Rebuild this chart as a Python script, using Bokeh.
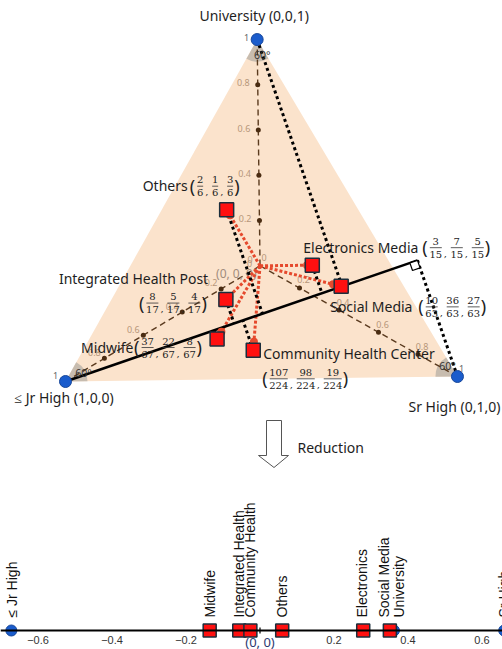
import math
import numpy as np
from bokeh.plotting import figure
from bokeh.models import ColumnDataSource, Range1d, LinearAxis, FixedTicker
from bokeh.layouts import column
from bokeh.embed import file_html
from bokeh.resources import INLINE
from bokeh.core.properties import value

# ---------------- data ----------------
vertex_labels = ["≤ Jr High (1,0,0)", "Sr High (0,1,0)", "University (0,0,1)"]

categories = ["Others", "Electronics Media", "Integrated Health Post",
              "Social Media", "Midwife", "Community Health Center"]
jr_high = [2, 3, 8, 10, 37, 107]
sr_high = [1, 7, 5, 36, 22, 98]
university = [3, 5, 4, 17, 8, 19]
totals = [6, 15, 17, 63, 67, 224]
university_as_printed = [3, 5, 4, 27, 8, 19]

median_ticks = [0, 0.2, 0.4, 0.6, 0.8, 1]
reduction_axis_deg = 19.0

line_names = ["≤ Jr High", "Midwife", "Integrated Health", "Community Health",
              "Others", "Electronics", "Social Media", "University", "Sr High"]
line_values = [-0.672, -0.136, -0.056, -0.026, 0.060, 0.279, 0.351, 0.362, 0.66]
line_is_vertex = [True, False, False, False, False, False, False, True, True]
line_ticks = [-0.6, -0.4, -0.2, 0.2, 0.4, 0.6]

# ---------------- layout / style ----------------
W, H_TOP, H_BOT = 502, 480, 169
S = 392.0                      # px per unit (triangle side)
L_PX = (65.0, 381.0)           # page position of the ≤ Jr High vertex
tilt = math.radians(0.73)
FONT = "Noto Sans"
DARK = "#1e1e1e"
RED = "#ff1010"
RED_DOT = "#e5492d"
BLUE = "#1a5ccc"
BROWN = "#5a3a1e"
TAN = "#b7977a"

name_off = {"Others": (-84, -24), "Electronics Media": (-9, -18),
            "Integrated Health Post": (-167, -21), "Social Media": (-11, 20),
            "Midwife": (-136, 8), "Community Health Center": (10, 3)}
frac_off = {"Others": (-36, -24), "Electronics Media": (111, -18),
            "Integrated Health Post": (-86, 3), "Social Media": (78, 20),
            "Midwife": (-82, 8), "Community Health Center": (10, 28)}


def page_to_data(px, py):
    return (px - L_PX[0]) / S, (L_PX[1] - py) / S


def add_text(p, x, y, text, xo=0, yo=0, font=FONT, size="14px", color=DARK,
             align="left", baseline="middle", angle=0.0):
    n = len(text)

    def arr(v):
        return list(v) if isinstance(v, (list, tuple, np.ndarray)) else [v] * n
    src = ColumnDataSource(dict(x=arr(x), y=arr(y), text=list(text),
                                xo=arr(xo), yo=arr(yo)))
    p.text(x="x", y="y", text="text", x_offset="xo", y_offset="yo", source=src,
           text_font=value(font), text_font_size=value(size), text_color=color,
           text_align=align, text_baseline=baseline, angle=angle)


# ---------------- ternary geometry ----------------
Lv = np.array([0.0, 0.0])
Rv = np.array([math.cos(tilt), math.sin(tilt)])
Tv = np.array([0.5 * math.cos(tilt) - math.sqrt(3) / 2 * math.sin(tilt),
               0.5 * math.sin(tilt) + math.sqrt(3) / 2 * math.cos(tilt)])
V = [Lv, Rv, Tv]
C = (Lv + Rv + Tv) / 3.0


def tern(a, b, c):
    return (a * Lv + b * Rv + c * Tv) / (a + b + c)


pts = [tern(a, b, c) for a, b, c in zip(jr_high, sr_high, university)]
th = math.radians(reduction_axis_deg)
u = np.array([math.cos(th), math.sin(th)])


def foot(P):
    return Lv + np.dot(P - Lv, u) * u


pt = figure(width=W, height=H_TOP,
            x_range=Range1d((0 - L_PX[0]) / S, (W - L_PX[0]) / S),
            y_range=Range1d((L_PX[1] - H_TOP) / S, L_PX[1] / S),
            output_backend="svg", toolbar_location=None,
            x_axis_type=None, y_axis_type=None, min_border=0,
            outline_line_color=None)

# triangle fill
pt.patch([v[0] for v in V], [v[1] for v in V], fill_color="#fbe3cc", line_color=None)

# angle wedges
wx, wy, ws, we = [], [], [], []
for i, Vi in enumerate(V):
    A, B = V[(i + 1) % 3], V[(i + 2) % 3]
    a1 = math.atan2(*(A - Vi)[::-1])
    a2 = math.atan2(*(B - Vi)[::-1])
    d = (a2 - a1) % (2 * math.pi)
    if d > math.pi:
        a1, d = a2, 2 * math.pi - d
    wx.append(Vi[0]); wy.append(Vi[1]); ws.append(a1); we.append(a1 + d)
pt.wedge(x=wx, y=wy, radius=22, radius_units="screen", start_angle=ws,
         end_angle=we, fill_color="#bab2a8", fill_alpha=0.8, line_color=None)

# medians (vertex -> centroid) with ticks
pt.segment(x0=[v[0] for v in V], y0=[v[1] for v in V], x1=[C[0]] * 3, y1=[C[1]] * 3,
           line_color=BROWN, line_width=1.4, line_dash="6 4")
dx_, dy_ = [], []
for v in V:
    for t in median_ticks[1:-1]:
        q = C + t * (v - C)
        dx_.append(q[0]); dy_.append(q[1])
pt.scatter(dx_, dy_, size=5, fill_color="#4a2c12", line_color=None)
lab_style = [(0, -10, -6, "center"), (1, 4, -8, "center"), (2, -8, -2, "right")]
for i, xo, yo, al in lab_style:
    v = V[i]
    qs = [C + t * (v - C) for t in median_ticks]
    txt = ["0" if t == 0 else ("1" if t == 1 else f"{t:.1f}") for t in median_ticks]
    cols = ["#666666" if t == 1 else TAN for t in median_ticks]
    for q, s_, col in zip(qs, txt, cols):
        add_text(pt, [q[0]], [q[1]], [s_], xo=xo, yo=yo, size="9px", color=col, align=al)

add_text(pt, [C[0]], [C[1]], ["(0, 0, 0)"], xo=-44, yo=8, size="12px", color="#a08c7c")

# red dotted arrows from centroid
ends = [C + 0.9 * (P - C) for P in pts]
pt.segment(x0=[C[0]] * len(pts), y0=[C[1]] * len(pts),
           x1=[e[0] for e in ends], y1=[e[1] for e in ends],
           line_color=RED_DOT, line_width=3, line_dash="3 2")

# black dotted projections onto the reduction axis
proj_src = pts + [Tv, Rv]
feet = [foot(P) for P in proj_src]
pt.segment(x0=[P[0] for P in proj_src], y0=[P[1] for P in proj_src],
           x1=[f[0] for f in feet], y1=[f[1] for f in feet],
           line_color="black", line_width=3, line_dash="3 3")

# reduction axis
FR = foot(Rv)
pt.line([Lv[0], FR[0]], [Lv[1], FR[1]], line_color="black", line_width=2.5)
nvec = (Rv - FR) / np.linalg.norm(Rv - FR)
s8 = 8 / S
sq = [FR, FR - s8 * u, FR - s8 * u + s8 * nvec, FR + s8 * nvec]
pt.patch([q[0] for q in sq], [q[1] for q in sq], fill_color="white",
         line_color="black", line_width=1.2)

pt.scatter([e[0] for e in ends], [e[1] for e in ends], size=8,
           fill_color=RED_DOT, line_color=None)

# data points
pt.scatter([P[0] for P in pts], [P[1] for P in pts], marker="square", size=14,
           fill_color=RED, line_color="#1c2e3c", line_width=1.5)
pt.scatter([v[0] for v in V], [v[1] for v in V], size=12, fill_color=BLUE,
           line_color="#17479a", line_width=1)

# corner angle labels
add_text(pt, [Lv[0], Rv[0], Tv[0]], [Lv[1], Rv[1], Tv[1]], ["60°"] * 3,
         xo=[18, -10, 5], yo=[-9, -11, 15.5], size="10.5px", color="#333333",
         align="center")

# vertex labels
add_text(pt, [Lv[0], Rv[0], Tv[0]], [Lv[1], Rv[1], Tv[1]], vertex_labels,
         xo=[-1.5, -3, -3], yo=[16, 30, -24.5], size="14px", align="center")

# category labels with fractions
paren, digits, commas, bars = [], [], [], []
for name, P, a, b, c_pr, den in zip(categories, pts, jr_high, sr_high,
                                     university_as_printed, totals):
    nx, ny = name_off[name]
    add_text(pt, [P[0]], [P[1]], [name], xo=nx, yo=ny, size="14px")
    gx, gy = frac_off[name]
    x = gx
    paren.append((P, "(", x - 1, gy))
    x += 6
    for k, n in enumerate([a, b, c_pr]):
        w = max(len(str(n)), len(str(den))) * 6.0 + 1
        xc = x + w / 2
        digits.append((P, str(n), xc, gy - 6))
        digits.append((P, str(den), xc, gy + 7))
        bars.append((P[0] + (x + 0.5) / S, P[1] - (gy + 0.5) / S,
                     P[0] + (x + w - 0.5) / S, P[1] - (gy + 0.5) / S))
        x += w
        if k < 2:
            commas.append((P, ",", x + 1.5, gy + 6))
            x += 8
    paren.append((P, ")", x + 0.5, gy))

for items, font, size, al in [(paren, FONT, "18px", "left"),
                              (digits, "DejaVu Serif", "10px", "center"),
                              (commas, "DejaVu Serif", "10px", "left")]:
    add_text(pt, [it[0][0] for it in items], [it[0][1] for it in items],
             [it[1] for it in items], xo=[it[2] for it in items],
             yo=[it[3] for it in items], font=font, size=size, align=al,
             color="#222222")
pt.segment(x0=[b[0] for b in bars], y0=[b[1] for b in bars],
           x1=[b[2] for b in bars], y1=[b[3] for b in bars],
           line_color="#333333", line_width=0.8)

# reduction arrow
arrow_px = [(266, 420), (281, 420), (281, 455), (288, 455), (273.5, 467),
            (258, 455), (266, 455)]
ad = [page_to_data(*q) for q in arrow_px]
pt.patch([q[0] for q in ad], [q[1] for q in ad], fill_color="white",
         line_color="#555555", line_width=1)
rx, ry = page_to_data(297, 447)
add_text(pt, [rx], [ry], ["Reduction"], size="14px")

# ---------------- 1-D reduction line ----------------
AXIS_PX = 630.0
TOP_PX = H_TOP
ZERO_PX = 259.5
UNIT = 370.0
pb = figure(width=W, height=H_BOT,
            x_range=Range1d((0 - ZERO_PX) / UNIT, (W - ZERO_PX) / UNIT),
            y_range=Range1d(AXIS_PX - (TOP_PX + H_BOT), AXIS_PX - TOP_PX),
            output_backend="svg", toolbar_location=None,
            x_axis_type=None, y_axis_type=None, min_border=0,
            outline_line_color=None)
ax = LinearAxis(fixed_location=0, ticker=FixedTicker(ticks=line_ticks))
ax.major_label_overrides = {t: f"{t:.1f}".replace("-", "\u2212") for t in line_ticks}
ax.axis_line_color = "black"
ax.axis_line_width = 2
ax.major_tick_in = 0
ax.major_tick_out = 0
ax.minor_tick_line_color = None
ax.major_label_standoff = 5
ax.major_label_text_font = "Liberation Sans"
ax.major_label_text_font_size = "11px"
ax.major_label_text_color = "#333333"
pb.add_layout(ax, "below")

pb.segment(x0=[0], y0=[-3], x1=[0], y1=[3], line_color="black", line_width=1.2)
vx = [v for v, isv in zip(line_values, line_is_vertex) if isv]
cx = [v for v, isv in zip(line_values, line_is_vertex) if not isv]
pb.scatter(vx, [0] * len(vx), size=11, fill_color=BLUE, line_color="#17479a")
pb.scatter(cx, [0] * len(cx), marker="square", size=13, fill_color=RED,
           line_color="#1c2e3c", line_width=1.5)
label_dx = {"≤ Jr High": 1, "Electronics": -1, "Social Media": -6, "University": 5}
add_text(pb, line_values, [13] * len(line_values), line_names,
         xo=[label_dx.get(n, 0) for n in line_names], yo=0,
         font="Liberation Sans", size="14px", color="#111111",
         align="left", baseline="middle", angle=math.pi / 2)
add_text(pb, [0], [-11], ["(0, 0)"], size="13px", color="#2c3a70", align="center")

layout = column(pt, pb)
open("out.html", "w").write(file_html(layout, INLINE))
